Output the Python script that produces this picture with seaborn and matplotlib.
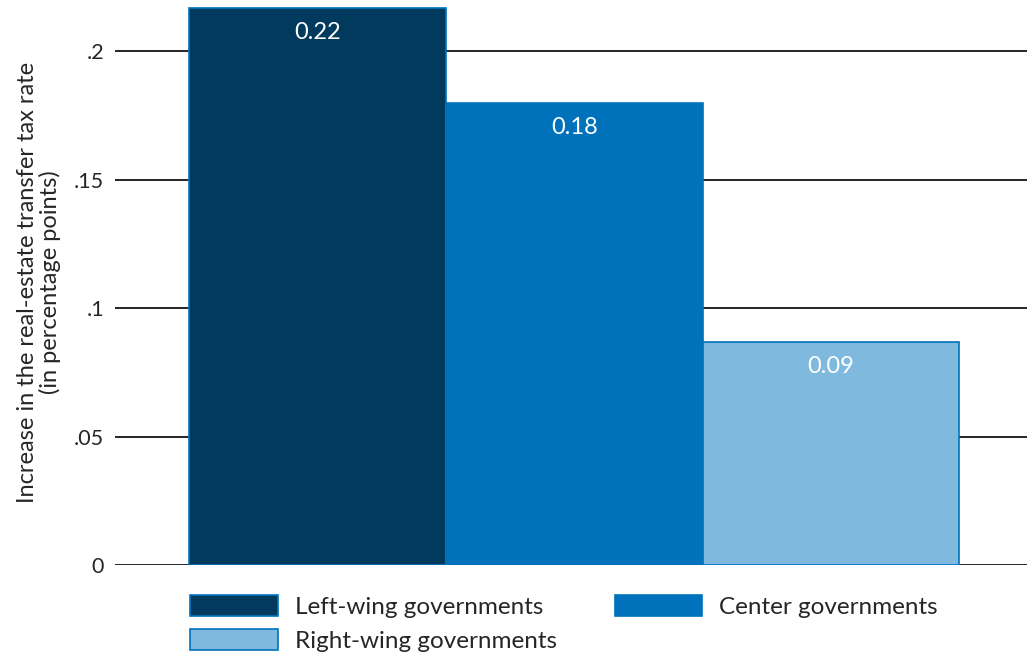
import matplotlib
matplotlib.use("Agg")
import matplotlib.pyplot as plt
import seaborn as sns
import pandas as pd
from matplotlib.patches import Patch

# Data
groups = ["Left-wing governments", "Center governments", "Right-wing governments"]
increase = [0.217, 0.180, 0.087]
colors = ["#023a5e", "#0072bc", "#80b9de"]
edge_color = "#0072bc"
y_ticks = [0, 0.05, 0.10, 0.15, 0.20]
y_tick_labels = ["0", ".05", ".1", ".15", ".2"]

sns.set_theme(style="white")
plt.rcParams["font.family"] = ["Lato", "DejaVu Sans"]

df = pd.DataFrame({"group": groups, "increase": increase})

fig = plt.figure(figsize=(10.27, 6.58), dpi=100)
ax = fig.add_axes([115 / 1027, 1 - 565 / 658, 912 / 1027, 565 / 658])

sns.barplot(data=df, x="group", y="increase", hue="group", order=groups,
            hue_order=groups, palette=colors, width=1.0, dodge=False,
            legend=False, ax=ax, edgecolor=edge_color, linewidth=1.2,
            saturation=1)

ax.set_xlim(-0.79, 2.764)
ax.set_ylim(0, 0.22)
ax.set_yticks(y_ticks)
ax.set_yticklabels(y_tick_labels, fontsize=15.5)
ax.tick_params(axis="y", length=0, pad=8)
ax.set_xticks([])
ax.set_xlabel("")
ax.set_ylabel("Increase in the real-estate transfer tax rate\n(in percentage points)",
              fontsize=17, labelpad=9, linespacing=1.05)
ax.yaxis.grid(True, color="black", linewidth=1.2)
ax.set_axisbelow(True)
for s in ax.spines.values():
    s.set_visible(False)

# value labels inside the top of each bar
for i, v in enumerate(increase):
    ax.annotate(f"{v:.2f}", xy=(i, v), xytext=(0, -18), textcoords="offset points",
                ha="center", va="center", color="white", fontsize=17)

# legend filled row by row: Left, Center / Right
order = [0, 2, 1]
handles = [Patch(facecolor=colors[k], edgecolor=edge_color, linewidth=1.2) for k in order]
labels = [groups[k] for k in order]
fig.legend(handles, labels, loc="upper left", bbox_to_anchor=(190 / 1027, 1 - 595 / 658),
           ncol=2, frameon=False, fontsize=17.5, handlelength=3.6, handleheight=0.95,
           columnspacing=2.4, handletextpad=0.7, labelspacing=0.45,
           borderaxespad=0, borderpad=0)

fig.savefig("out.png", dpi=100)
